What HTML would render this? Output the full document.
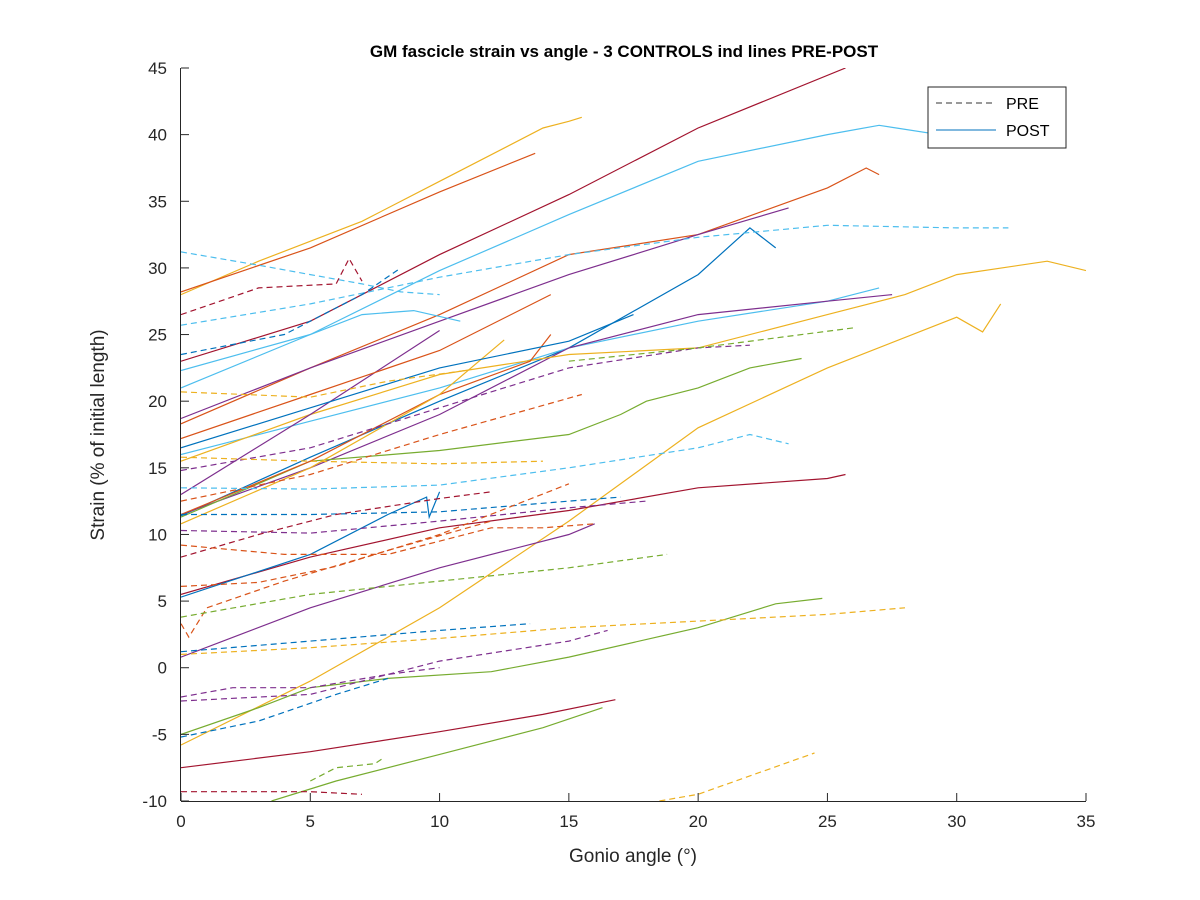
<!DOCTYPE html>
<html><head><meta charset="utf-8"><style>
body{margin:0;background:#fff;}
svg{display:block;font-family:"Liberation Sans",Arial,sans-serif;}
</style></head><body>
<svg id="chart" width="1200" height="900" viewBox="0 0 1200 900">
<rect x="0" y="0" width="1200" height="900" fill="#fff"/>
<defs><clipPath id="plotclip"><rect x="181" y="68" width="905" height="733"/></clipPath></defs>
<text x="624" y="57" font-size="17" font-weight="bold" text-anchor="middle" fill="#000">GM fascicle strain vs angle - 3 CONTROLS ind lines PRE-POST</text>
<g id="lines" clip-path="url(#plotclip)"></g>
<g id="axes"></g>
<text x="633" y="862" font-size="19" text-anchor="middle" fill="#262626">Gonio angle (°)</text>
<text transform="translate(104,435) rotate(-90)" font-size="19" text-anchor="middle" fill="#262626">Strain (% of initial length)</text>
<g>
<rect x="928" y="87" width="138" height="61" fill="#fff" stroke="#262626" stroke-width="1"/>
<line x1="936" y1="103" x2="996" y2="103" stroke="#333" stroke-dasharray="6,4" stroke-width="1"/>
<text x="1006" y="109" font-size="16" fill="#000">PRE</text>
<line x1="936" y1="130" x2="996" y2="130" stroke="#0072BD" stroke-width="1"/>
<text x="1006" y="136" font-size="16" fill="#000">POST</text>
</g>
</svg>
<script>
const xTicks=[0,5,10,15,20,25,30,35];
const yTicks=[-10,-5,0,5,10,15,20,25,30,35,40,45];
const C={b:"#0072BD",o:"#D95319",y:"#EDB120",p:"#7E2F8E",g:"#77AC30",c:"#4DBEEE",r:"#A2142F"};
const seriesColor=["r","c","y","o","o","p","b","c","c","p","y","y","g","g","g","r","r","p","p","o","o","y","b","b",
 "c","c","r","b","y","p","g","o","y","c","b","p","r","o","o","o","g","b","y","p","p","b","g","r","y"];
const seriesDashed=[0,0,0,0,0,0,0,0,0,0,0,0,0,0,0,0,0,0,0,0,0,0,0,0,
 1,1,1,1,1,1,1,1,1,1,1,1,1,1,1,1,1,1,1,1,1,1,1,1,1];
const seriesX=[
[0,2,5,10,15,20,25.7],
[0,5,10,15,20,25,27,30],
[0,3,7,10,14,15,15.5],
[0,5,10,13.7],
[0,5,10,15,20,25,26.5,27],
[0,5,10,15,20,23.5],
[0,5,10,15,20,22,23],
[0,5,7,9,10.8],
[0,5,10,15,20,25,27],
[0,5,10,15,20,25,27.5],
[0,5,10,15,20,25,28,30,33.5,35],
[0,5,10,15,20,25,30,31,31.7],
[0,5,10,15,17,18,20,22,24],
[0,3,5,8,12,15,20,23,24.8],
[3.5,6,10,14,16.3],
[0,5,10,14,16.8],
[0,5,10,15,20,25,25.7],
[0,5,10,15,16],
[0,5,10],
[0,5,10,14.3],
[0,5,10,13.5,14.3],
[0,5,10,12.5],
[0,5,10,15,17.5],
[0,5,8,9.5,9.6,10],
[0,3,5,7,8.5,10],
[0,5,10,15,20,25,30,32],
[0,3,6,6.5,7],
[0,4,7,8.5],
[0,5,8,11],
[0,5,10,15,20,22],
[15,20,26],
[0,5,10,15.5],
[0,5,10,14],
[0,5,10,15,20,22,23.5],
[0,5,10,15,17],
[0,5,10,15,18],
[0,3,6,10,12],
[0,4,8,12,14,16],
[0,3,6,10,15],
[0,0.3,1,4,8,12],
[0,5,10,15,18.8],
[0,5,10,13.5],
[0,5,10,15,20,25,28],
[0,5,10,15,16.5],
[0,2,5,8,10],
[0,3,6,8],
[5,6,7.5,7.8],
[0,5,7],
[18.5,20,24.5]];
const seriesY=[
[23,24.2,26,31,35.5,40.5,45],
[21,25,29.8,34,38,40,40.7,39.8],
[28,30.5,33.5,36.5,40.5,41,41.3],
[28.2,31.5,35.7,38.6],
[18.3,22.5,26.5,31,32.5,36,37.5,37],
[18.7,22.5,26,29.5,32.5,34.5],
[11.4,15.8,20,24,29.5,33,31.5],
[22.3,25,26.5,26.8,26],
[16,18.5,21,24,26,27.5,28.5],
[11.5,15,19,24,26.5,27.5,28],
[15.5,19,22,23.5,24,26.5,28,29.5,30.5,29.8],
[-5.8,-1,4.5,11,18,22.5,26.3,25.2,27.3],
[11.3,15.5,16.3,17.5,19,20,21,22.5,23.2],
[-5,-3,-1.5,-0.8,-0.3,0.8,3,4.8,5.2],
[-10,-8.5,-6.5,-4.5,-3],
[-7.5,-6.3,-4.8,-3.5,-2.4],
[5.5,8.3,10.5,11.8,13.5,14.2,14.5],
[0.8,4.5,7.5,10,10.8],
[13,19,25.3],
[17.2,20.5,23.8,28],
[11.5,15.5,20.5,23,25],
[10.8,15,20.5,24.6],
[16.5,19.5,22.5,24.5,26.5],
[5.3,8.5,11.5,12.8,11.3,13.2],
[31.2,30.2,29.5,28.8,28.2,28],
[25.7,27.3,29.3,31,32.3,33.2,33,33],
[26.5,28.5,28.8,30.7,29],
[23.5,25,28,30],
[20.7,20.3,21.5,22.3],
[14.8,16.5,19.5,22.5,24,24.2],
[23,24,25.5],
[12.5,14.5,17.5,20.5],
[15.8,15.5,15.3,15.5],
[13.5,13.4,13.7,15,16.5,17.5,16.8],
[11.5,11.5,11.7,12.5,12.8],
[10.3,10.1,11,12,12.5],
[8.3,10,11.5,12.7,13.2],
[9.2,8.5,8.5,10.5,10.5,10.8],
[6.1,6.4,7.6,10,13.8],
[3.3,2.3,4.5,6.5,8.8,11],
[3.8,5.5,6.5,7.5,8.5],
[1.2,2,2.8,3.3],
[1,1.5,2.2,3,3.5,4,4.5],
[-2.5,-2,0.5,2,2.8],
[-2.2,-1.5,-1.5,-0.5,0],
[-5.2,-4,-2,-0.8],
[-8.5,-7.5,-7.2,-6.8],
[-9.3,-9.3,-9.5],
[-10,-9.5,-6.4]];

const X0=181,X1=1086,Y0=801,Y1=68;
const sx=v=>X0+(v-0)/(35-0)*(X1-X0);
const sy=v=>Y0-(v-(-10))/(45-(-10))*(Y0-Y1);
const NS="http://www.w3.org/2000/svg";
const lines=document.getElementById("lines");
for(let i=0;i<seriesX.length;i++){
  const p=document.createElementNS(NS,"polyline");
  
  
  p.setAttribute("points",seriesX[i].map((x,j)=>sx(x).toFixed(1)+","+sy(seriesY[i][j]).toFixed(1)).join(" "));
  p.setAttribute("fill","none");
  p.setAttribute("stroke",C[seriesColor[i]]);
  p.setAttribute("stroke-width","1.2");
  if(seriesDashed[i]) p.setAttribute("stroke-dasharray","6,4");
  lines.appendChild(p);
}
const ax=document.getElementById("axes");
function ln(x1,y1,x2,y2){const l=document.createElementNS(NS,"line");l.setAttribute("x1",x1);l.setAttribute("y1",y1);l.setAttribute("x2",x2);l.setAttribute("y2",y2);l.setAttribute("stroke","#262626");l.setAttribute("stroke-width","1");ax.appendChild(l);return l;}
const xa=ln(X0,Y0+0.5,X1,Y0+0.5);


const ya=ln(X0-0.5,Y0,X0-0.5,Y1);


xTicks.forEach(t=>{
  ln(sx(t),Y0,sx(t),Y0-8);
  const tx=document.createElementNS(NS,"text");
  
  
  tx.setAttribute("x",sx(t));tx.setAttribute("y",Y0+26);tx.setAttribute("font-size","17");tx.setAttribute("text-anchor","middle");tx.setAttribute("fill","#262626");
  tx.textContent=t;ax.appendChild(tx);
});
yTicks.forEach(t=>{
  ln(X0,sy(t),X0+8,sy(t));
  const tx=document.createElementNS(NS,"text");
  
  
  tx.setAttribute("x",X0-14);tx.setAttribute("y",sy(t)+6);tx.setAttribute("font-size","17");tx.setAttribute("text-anchor","end");tx.setAttribute("fill","#262626");
  tx.textContent=t;ax.appendChild(tx);
});
</script>
</body></html>
